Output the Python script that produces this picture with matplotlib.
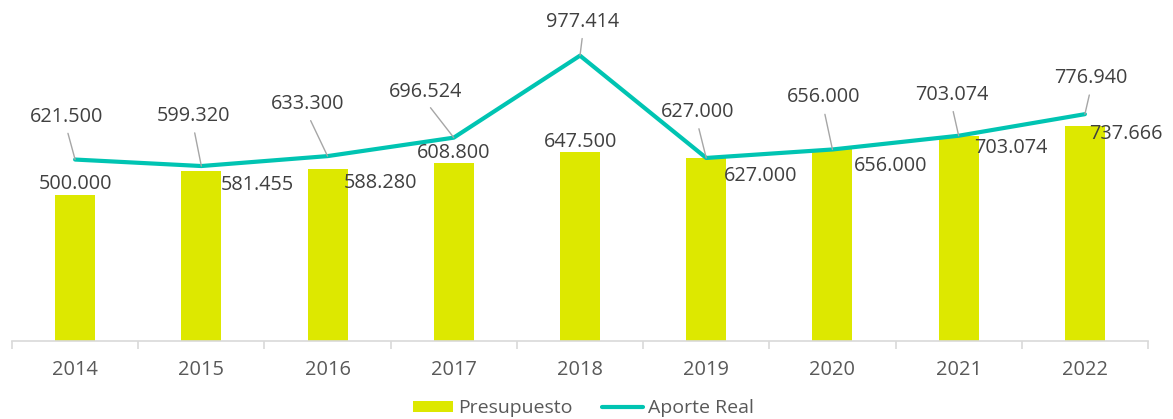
import matplotlib
matplotlib.use("Agg")
import matplotlib.pyplot as plt
from matplotlib.patches import Patch
from matplotlib.lines import Line2D

years = ["2014", "2015", "2016", "2017", "2018", "2019", "2020", "2021", "2022"]
presupuesto = [500000, 581455, 588280, 608800, 647500, 627000, 656000, 703074, 737666]
aporte_real = [621500, 599320, 633300, 696524, 977414, 627000, 656000, 703074, 776940]

# label offsets in pixels (text centre relative to the mark)
bar_label_offsets = [(0, 11), (56, -14), (53, -14), (0, 10), (1, 10),
                     (54, -18), (58, -17), (52, -12), (41, -8)]
line_label_offsets = [(-9, 43), (-8, 50), (-20, 52), (-28, 46), (3, 34),
                      (-9, 46), (-9, 52), (-7, 41), (6, 36)]

BAR_COLOR = "#DDE800"
LINE_COLOR = "#00C4B2"
LABEL_COLOR = "#404040"
TICK_COLOR = "#595959"
AXIS_COLOR = "#D9D9D9"
LEADER_COLOR = "#A6A6A6"

plt.rcParams["font.family"] = ["Open Sans", "DejaVu Sans"]


def fmt(v):
    return f"{v:,.0f}".replace(",", ".")


W, H = 1173, 419
fig = plt.figure(figsize=(W / 100, H / 100), dpi=100)
ax = fig.add_axes([12 / W, (H - 341) / H, 1136 / W, 341 / H])

x = list(range(len(years)))
ax.bar(x, presupuesto, width=0.317, color=BAR_COLOR, zorder=2)
ax.plot(x, aporte_real, color=LINE_COLOR, lw=3.0, solid_capstyle="round",
        solid_joinstyle="round", zorder=3)

ax.set_xlim(-0.5, len(years) - 0.5)
ax.set_ylim(0, 1168000)

for s in ("top", "right", "left"):
    ax.spines[s].set_visible(False)
ax.spines["bottom"].set_color(AXIS_COLOR)
ax.spines["bottom"].set_linewidth(1.2)
ax.set_yticks([])

ax.set_xticks(x)
ax.set_xticklabels(years, fontsize=14.4, color=TICK_COLOR)
ax.tick_params(axis="x", which="major", length=0, pad=14)
ax.set_xticks([i - 0.5 for i in range(len(years) + 1)], minor=True)
ax.tick_params(axis="x", which="minor", length=6, width=1.2, color=AXIS_COLOR)

for i, (v, (dx, dy)) in enumerate(zip(presupuesto, bar_label_offsets)):
    ax.annotate(fmt(v), xy=(i, v), xytext=(dx, dy), textcoords="offset pixels",
                ha="center", va="center", fontsize=14.3, color=LABEL_COLOR,
                zorder=5)

for i, (v, (dx, dy)) in enumerate(zip(aporte_real, line_label_offsets)):
    ax.annotate(fmt(v), xy=(i, v), xytext=(dx, dy), textcoords="offset pixels",
                ha="center", va="center", fontsize=14.3, color=LABEL_COLOR,
                zorder=5,
                arrowprops=dict(arrowstyle="-", color=LEADER_COLOR, lw=1.0,
                                relpos=(0.5, 0.0), shrinkA=3, shrinkB=0))

handles = [Patch(facecolor=BAR_COLOR, edgecolor="none", label="Presupuesto"),
           Line2D([0], [0], color=LINE_COLOR, lw=3.0, solid_capstyle="round",
                  label="Aporte Real")]
fig.legend(handles=handles, loc="center", bbox_to_anchor=(583 / W, 1 - 408 / H),
           ncol=2, frameon=False, fontsize=14, handlelength=2.1,
           handleheight=0.5, handletextpad=0.25, columnspacing=1.5,
           labelcolor=TICK_COLOR)

fig.savefig("out.png", dpi=100)
